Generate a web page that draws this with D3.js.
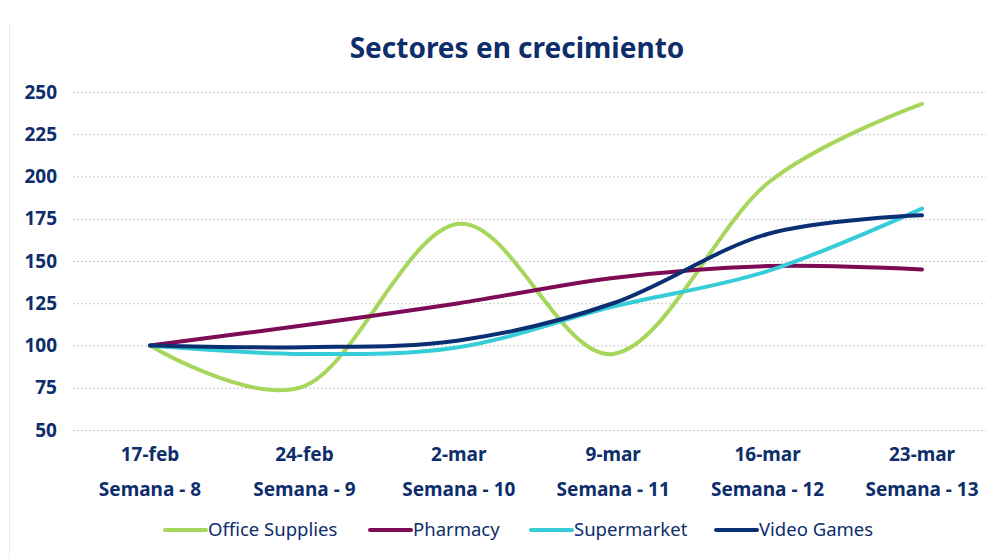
<!DOCTYPE html>
<html>
<head>
<meta charset="utf-8">
<script src="https://cdn.jsdelivr.net/npm/d3@7"></script>
<style>
  body { margin: 0; background: #fff; }
  text { font-family: "Noto Sans", sans-serif; }
</style>
</head>
<body>
<svg id="chart" width="989" height="558"></svg>
<script>
// DATA
const dates = ["17-feb", "24-feb", "2-mar", "9-mar", "16-mar", "23-mar"];
const weeks = ["Semana - 8", "Semana - 9", "Semana - 10", "Semana - 11", "Semana - 12", "Semana - 13"];
const yTicks = [50, 75, 100, 125, 150, 175, 200, 225, 250];
const seriesNames = ["Office Supplies", "Pharmacy", "Supermarket", "Video Games"];
const officeSupplies = [100, 76, 172, 95, 196, 243];
const pharmacy = [100, 112, 125, 140, 147, 145];
const supermarket = [100, 95, 99, 123, 144, 181];
const videoGames = [100, 99, 103, 125, 166, 177];
const colors = ["#a6d65b", "#7e0b56", "#36cdd8", "#0b2f73"];

const navy = "#0d2d6b";
const svg = d3.select("#chart");

// CANVAS SETUP
const xScale = d3.scalePoint().domain(dates).range([150, 922]);
const yScale = d3.scaleLinear().domain([50, 250]).range([430, 92]);

// faint frame on the left
svg.append("line")
  .attr("x1", 9.5).attr("x2", 9.5).attr("y1", 22).attr("y2", 558)
  .attr("stroke", "#ececec");

svg.append("text")
  .attr("x", 517).attr("y", 58)
  .attr("text-anchor", "middle")
  .attr("font-size", 28).attr("font-weight", 700)
  .attr("fill", navy)
  .text("Sectores en crecimiento");

// GRID + Y AXIS
const gy = svg.append("g");
gy.selectAll("line")
  .data(yTicks)
  .join("line")
  .attr("x1", 73).attr("x2", 986)
  .attr("y1", (d) => yScale(d) + 0.5).attr("y2", (d) => yScale(d) + 0.5)
  .attr("stroke", "#c9c9c9")
  .attr("stroke-dasharray", "2,2");

gy.selectAll("text")
  .data(yTicks)
  .join("text")
  .attr("x", 57).attr("y", (d) => yScale(d))
  .attr("dy", "0.35em")
  .attr("text-anchor", "end")
  .attr("font-size", 19).attr("font-weight", 700)
  .attr("fill", navy)
  .text((d) => d);

// X LABELS
const gx = svg.append("g");
gx.selectAll("text.date")
  .data(dates)
  .join("text")
  .attr("class", "date")
  .attr("x", (d) => xScale(d)).attr("y", 454)
  .attr("dy", "0.35em")
  .attr("text-anchor", "middle")
  .attr("font-size", 19).attr("font-weight", 700)
  .attr("fill", navy)
  .text((d) => d);

gx.selectAll("text.week")
  .data(weeks)
  .join("text")
  .attr("class", "week")
  .attr("x", (d, i) => xScale(dates[i])).attr("y", 489)
  .attr("dy", "0.35em")
  .attr("text-anchor", "middle")
  .attr("font-size", 19).attr("font-weight", 700)
  .attr("fill", navy)
  .text((d) => d);

// LINES
const series = [officeSupplies, pharmacy, supermarket, videoGames];
const line = d3.line()
  .x((d, i) => xScale(dates[i]))
  .y((d) => yScale(d))
  .curve(d3.curveCardinal.tension(0));

svg.append("g")
  .selectAll("path")
  .data(series)
  .join("path")
  .attr("d", line)
  .attr("fill", "none")
  .attr("stroke", (d, i) => colors[i])
  .attr("stroke-width", 4)
  .attr("stroke-linecap", "round");

// LEGEND
const legendX = [165, 370, 531, 716];
const gl = svg.append("g");
const items = gl.selectAll("g")
  .data(seriesNames)
  .join("g")
  .attr("transform", (d, i) => `translate(${legendX[i]},530)`);

items.append("line")
  .attr("x1", 0).attr("x2", 41)
  .attr("stroke", (d, i) => colors[i])
  .attr("stroke-width", 4)
  .attr("stroke-linecap", "round");

items.append("text")
  .attr("x", 43).attr("dy", "0.35em")
  .attr("font-size", 18.5)
  .attr("fill", navy)
  .text((d) => d);
</script>
</body>
</html>
